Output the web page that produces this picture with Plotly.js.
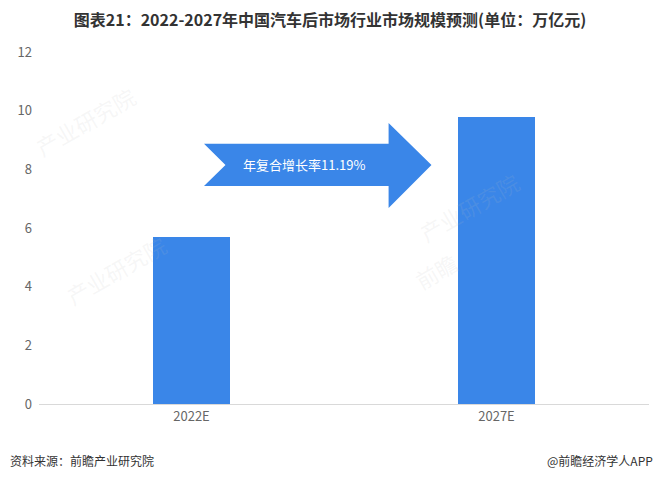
<!DOCTYPE html>
<html>
<head>
<meta charset="utf-8">
<script src="https://cdn.plot.ly/plotly-3.0.1.min.js"></script>
<style>html,body{margin:0;padding:0;background:#fff;}#chart{width:660px;height:480px;}</style>
</head>
<body>
<div id="chart"></div>
<script>
const categories = ["2022E", "2027E"];
const marketSize = [5.68, 9.77];
const yTicks = [0, 2, 4, 6, 8, 10, 12];
const titleText = "图表21：2022-2027年中国汽车后市场行业市场规模预测(单位：万亿元)";
const cagrText = "年复合增长率11.19%";
const sourceText = "资料来源：前瞻产业研究院";
const creditText = "@前瞻经济学人APP";

const FONT = "'Noto Sans CJK SC', 'Noto Sans', sans-serif";
const BLUE = "#3a86e8";

const trace = {
  type: "bar",
  x: categories,
  y: marketSize,
  width: 0.25,
  marker: {color: BLUE},
  hoverinfo: "skip"
};

// arrow in paper coordinates
const pts = [
  [0.2705, 0.739], [0.5731, 0.739], [0.5731, 0.798], [0.6434, 0.679],
  [0.5731, 0.557], [0.5731, 0.619], [0.2705, 0.619], [0.3057, 0.679]
];
const arrowPath = "M " + pts.map(p => p[0] + "," + p[1]).join(" L ") + " Z";

const wm = {
  xref: "paper", yref: "paper", showarrow: false, textangle: -30,
  font: {family: FONT, size: 22, color: "rgba(190,190,190,0.13)"}
};

const layout = {
  width: 660, height: 480,
  margin: {l: 39, r: 11, t: 52, b: 76},
  paper_bgcolor: "#fff", plot_bgcolor: "#fff",
  showlegend: false,
  bargap: 0,
  title: {
    text: "<b>" + titleText + "</b>",
    x: 0.5, xanchor: "center", xref: "container",
    y: 1 - 20/480, yanchor: "middle",
    font: {family: FONT, size: 16, color: "#333"}
  },
  xaxis: {
    type: "category",
    range: [-0.5, 1.5],
    showline: true, linecolor: "#d9d9d9", linewidth: 1,
    showgrid: false, zeroline: false,
    ticks: "",
    tickfont: {family: FONT, size: 13, color: "#666"},
    fixedrange: true
  },
  yaxis: {
    range: [0, 12],
    tickvals: yTicks,
    showgrid: false, zeroline: false, showline: false,
    ticks: "",
    tickfont: {family: FONT, size: 13, color: "#666"},
    ticklabelstandoff: 6,
    fixedrange: true
  },
  shapes: [{
    type: "path", xref: "paper", yref: "paper",
    path: arrowPath,
    fillcolor: BLUE, line: {width: 0}, layer: "above"
  }],
  annotations: [
    Object.assign({}, wm, {x: -0.02, y: 0.93, text: "产业研究院"}),
    Object.assign({}, wm, {x: 0.03, y: 0.38, text: "产业研究院"}),
    Object.assign({}, wm, {x: 0.8, y: 0.56, text: "产业研究院"}),
    Object.assign({}, wm, {x: 0.65, y: 0.3, text: "前瞻"}),
    {
      xref: "paper", yref: "paper", x: 0.435, y: 0.679,
      xanchor: "center", yanchor: "middle", showarrow: false,
      text: cagrText,
      font: {family: FONT, size: 13, color: "#fff"}
    },
    {
      xref: "paper", yref: "paper", x: -31/610, y: -56/352,
      xanchor: "left", yanchor: "middle", showarrow: false,
      text: sourceText,
      font: {family: FONT, size: 12, color: "#333"}
    },
    {
      xref: "paper", yref: "paper", x: 1 + 6/610, y: -56/352,
      xanchor: "right", yanchor: "middle", showarrow: false,
      text: creditText,
      font: {family: FONT, size: 12, color: "#333"}
    }
  ]
};

Plotly.newPlot("chart", [trace], layout, {displayModeBar: false, staticPlot: true});
</script>
</body>
</html>
